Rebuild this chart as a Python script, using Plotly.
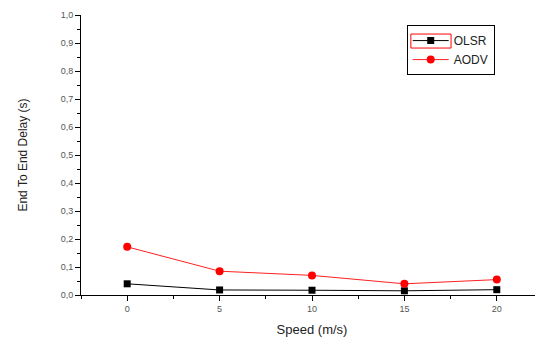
import plotly.graph_objects as go

speed = [0, 5, 10, 15, 20]
olsr = [0.040, 0.018, 0.017, 0.015, 0.019]
aodv = [0.172, 0.085, 0.070, 0.040, 0.055]
y_ticks = [i / 10 for i in range(11)]
y_tick_labels = ["0,0", "0,1", "0,2", "0,3", "0,4", "0,5", "0,6", "0,7", "0,8", "0,9", "1,0"]
x_ticks = [0, 5, 10, 15, 20]
x_tick_labels = ["0", "5", "10", "15", "20"]

fig = go.Figure()
fig.add_trace(go.Scatter(x=speed, y=olsr, name="OLSR", mode="lines+markers",
                         line=dict(color="black", width=1),
                         marker=dict(symbol="square", size=7, color="black")))
fig.add_trace(go.Scatter(x=speed, y=aodv, name="AODV", mode="lines+markers",
                         line=dict(color="#ff2020", width=1),
                         marker=dict(symbol="circle", size=8, color="#ff0000")))

tickfont = dict(family="Liberation Sans, Arial", size=9, color="#555555")
fig.update_layout(
    width=535, height=330,
    margin=dict(l=73, r=0, t=7, b=43),
    paper_bgcolor="white", plot_bgcolor="white",
    showlegend=True,
    legend=dict(x=0.705, y=0.964, xanchor="left", yanchor="top",
                bordercolor="black", borderwidth=1, bgcolor="rgba(255,255,255,0)",
                font=dict(family="Liberation Sans, Arial", size=12, color="#222222"),
                tracegroupgap=0, itemwidth=36),
    shapes=[dict(type="rect", xref="paper", yref="paper",
                 x0=0.714, x1=0.801, y0=0.882, y1=0.932,
                 line=dict(color="#ff0000", width=1))],
    xaxis=dict(range=[-2.5, 22.5], tickvals=x_ticks, ticktext=x_tick_labels,
               showgrid=False, zeroline=False, showline=True, linecolor="black", linewidth=1,
               ticks="outside", ticklen=5, tickcolor="black",
               minor=dict(tickvals=[-2.5, 2.5, 7.5, 12.5, 17.5, 22.5], ticks="outside", ticklen=3, tickcolor="black"),
               tickfont=tickfont,
               title=dict(text="Speed (m/s)", font=dict(family="Liberation Sans, Arial", size=13, color="#222222"), standoff=12)),
    yaxis=dict(range=[0, 1.0], tickvals=y_ticks, ticktext=y_tick_labels,
               showgrid=False, zeroline=False, showline=True, linecolor="black", linewidth=1,
               ticks="outside", ticklen=5, tickcolor="black",
               minor=dict(dtick=0.05, ticks="outside", ticklen=3, tickcolor="black"),
               tickfont=tickfont,
               title=dict(text="End To End Delay (s)", font=dict(family="Liberation Sans, Arial", size=12, color="#222222"), standoff=30)),
)
fig.write_html("out.html")
